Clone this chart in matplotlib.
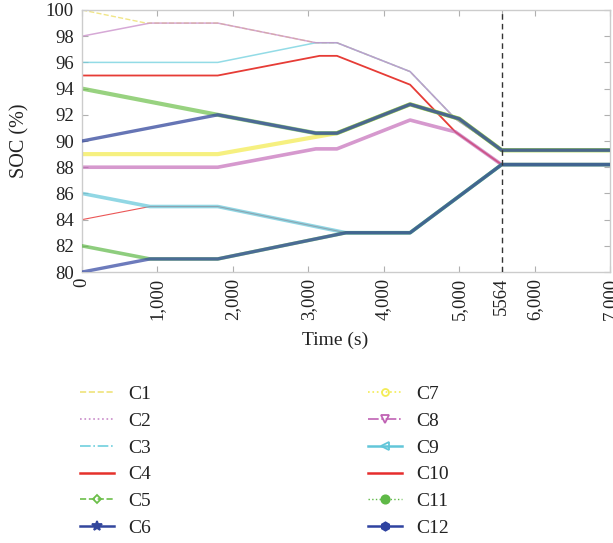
import matplotlib
matplotlib.use("Agg")
import matplotlib.pyplot as plt
from matplotlib.lines import Line2D

plt.rcParams['font.family'] = ['Liberation Serif', 'DejaVu Serif']

# ---- data (time in s, SOC in %) ----
c1_t = [0, 850, 1800, 3100, 3380, 4350, 4950, 5564, 7000]
c1_soc = [100, 99, 99, 97.5, 97.5, 95.3, 91.7, 89.3, 89.3]
c2_t = [0, 900, 1800, 3100, 3380, 4350, 4950, 5564, 7000]
c2_soc = [98, 99, 99, 97.5, 97.5, 95.3, 91.7, 89.3, 89.3]
c3_t = [0, 1800, 3100, 3380, 4350, 4950, 5564, 7000]
c3_soc = [96, 96, 97.5, 97.5, 95.3, 91.7, 89.3, 89.3]
c4_t = [0, 1800, 3150, 3380, 4350, 4950, 5564, 7000]
c4_soc = [95, 95, 96.5, 96.5, 94.3, 90.7, 88.2, 88.2]
c5_t = [0, 900, 1800, 3100, 3380, 4350, 5000, 5564, 7000]
c5_soc = [94, 93, 92, 90.6, 90.6, 92.8, 91.7, 89.3, 89.3]
c6_t = [0, 900, 1800, 3100, 3380, 4350, 5000, 5564, 7000]
c6_soc = [90, 91, 92, 90.6, 90.6, 92.8, 91.7, 89.3, 89.3]
c7_t = [0, 900, 1800, 3380, 4350, 5000, 5564, 7000]
c7_soc = [89, 89, 89, 90.6, 92.8, 91.7, 89.3, 89.3]
c8_t = [0, 900, 1800, 3100, 3380, 4350, 4950, 5564, 7000]
c8_soc = [88, 88, 88, 89.4, 89.4, 91.6, 90.7, 88.2, 88.2]
c9_t = [0, 900, 1800, 3500, 4350, 5564, 7000]
c9_soc = [86, 85, 85, 83, 83, 88.2, 88.2]
c10_t = [0, 900, 1800, 3500, 4350, 5564, 7000]
c10_soc = [84, 85, 85, 83, 83, 88.2, 88.2]
c11_t = [0, 900, 1800, 3500, 4350, 5564, 7000]
c11_soc = [82, 81, 81, 83, 83, 88.2, 88.2]
c12_t = [0, 900, 1800, 3500, 4350, 5564, 7000]
c12_soc = [80, 81, 81, 83, 83, 88.2, 88.2]

labels = ["C1", "C2", "C3", "C4", "C5", "C6", "C7", "C8", "C9", "C10", "C11", "C12"]
x_ticks = [0, 1000, 2000, 3000, 4000, 5000, 5564, 6000, 7000]
x_tick_labels = ["0", "1,000", "2,000", "3,000", "4,000", "5,000", "5564", "6,000", "7,000"]
y_ticks = [80, 82, 84, 86, 88, 90, 92, 94, 96, 98, 100]
balance_time = 5564

series = [(c1_t, c1_soc), (c2_t, c2_soc), (c3_t, c3_soc), (c4_t, c4_soc),
          (c5_t, c5_soc), (c6_t, c6_soc), (c7_t, c7_soc), (c8_t, c8_soc),
          (c9_t, c9_soc), (c10_t, c10_soc), (c11_t, c11_soc), (c12_t, c12_soc)]

colors = ["#efe37a", "#c98cc9", "#6fd0de", "#e5312b", "#6cbf4a", "#33479d",
          "#f3ec55", "#c062b4", "#62c6d9", "#e62d2d", "#5fb947", "#2f43a0"]
plot_lw = [1.0, 1.1, 1.1, 1.3, 3.0, 2.4, 3.0, 2.6, 2.6, 0.8, 2.6, 2.4]
plot_ls = ["--", "-", "-", "-", "-", "-", "-", "-", "-", "-", "-", "-"]
plot_alpha = [0.9, 0.75, 0.75, 0.95, 0.7, 0.75, 0.75, 0.65, 0.7, 0.8, 0.7, 0.7]
plot_z = [2.0, 2.3, 2.2, 2.4, 2.5, 2.6, 2.45, 2.4, 2.5, 2.3, 2.55, 2.6]

leg_ls = ["--", ":", "-.", "-", "--", "-", ":", "-.", "-", "-", ":", "-"]
leg_marker = [None, None, None, None, "D", "*", "o", "v", "<", None, "o", "h"]
leg_ms = [0, 0, 0, 0, 4.5, 7, 5, 6, 6, 0, 6, 6]
leg_mfc = [None, None, None, None, "none", None, "none", "none", "none", None, None, None]
leg_lw = [1.2, 1.2, 1.2, 1.8, 1.2, 1.8, 1.2, 1.2, 1.8, 1.8, 1.0, 1.8]

fig = plt.figure(figsize=(6.13, 5.43), dpi=100)
ax = fig.add_axes([0.1338, 0.499, 0.8612, 0.4826])

for i, (t, s) in enumerate(series):
    ax.plot(t, s, color=colors[i], lw=plot_lw[i], ls=plot_ls[i], alpha=plot_alpha[i],
            solid_capstyle='round', solid_joinstyle='round', zorder=plot_z[i])

ax.axvline(balance_time, color="#333333", ls=(0, (4, 3)), lw=1.0, zorder=5)

ax.set_xlim(0, 7000)
ax.set_ylim(80, 100)
ax.set_xticks(x_ticks)
ax.set_xticklabels(x_tick_labels, rotation=90, fontsize=13.5)
ax.set_yticks(y_ticks)
ax.set_yticklabels([str(v) for v in y_ticks], fontsize=13.5)
ax.tick_params(direction="in", top=True, right=True, length=4, color="#b0b0b0",
               labelcolor="#222222", pad=4)
ax.tick_params(axis="y", pad=6)
for sp in ax.spines.values():
    sp.set_color("#cccccc")
    sp.set_linewidth(1.0)
ax.set_xlabel("Time (s)", fontsize=14, color="#222222")
ax.xaxis.set_label_coords(0.479, -0.226)
ax.set_ylabel("SOC (%)", fontsize=14.5, color="#222222")
ax.yaxis.set_label_coords(-0.100, 0.5)

handles = []
for i in range(12):
    h = Line2D([], [], color=colors[i], ls=leg_ls[i], lw=leg_lw[i],
               marker=leg_marker[i] if leg_marker[i] else None,
               markersize=leg_ms[i], markeredgewidth=1.3,
               markerfacecolor=leg_mfc[i] if leg_mfc[i] else colors[i])
    handles.append(h)

common = dict(loc="upper left", frameon=False, fontsize=14, handlelength=1.75,
              handletextpad=0.75, labelspacing=0.47, borderpad=0, borderaxespad=0,
              labelcolor="#222222")
leg1 = fig.legend(handles[:6], labels[:6], bbox_to_anchor=(0.1305, 0.290), **common)
leg2 = fig.legend(handles[6:], labels[6:], bbox_to_anchor=(0.600, 0.290), **common)

fig.savefig("out.png", dpi=100)
